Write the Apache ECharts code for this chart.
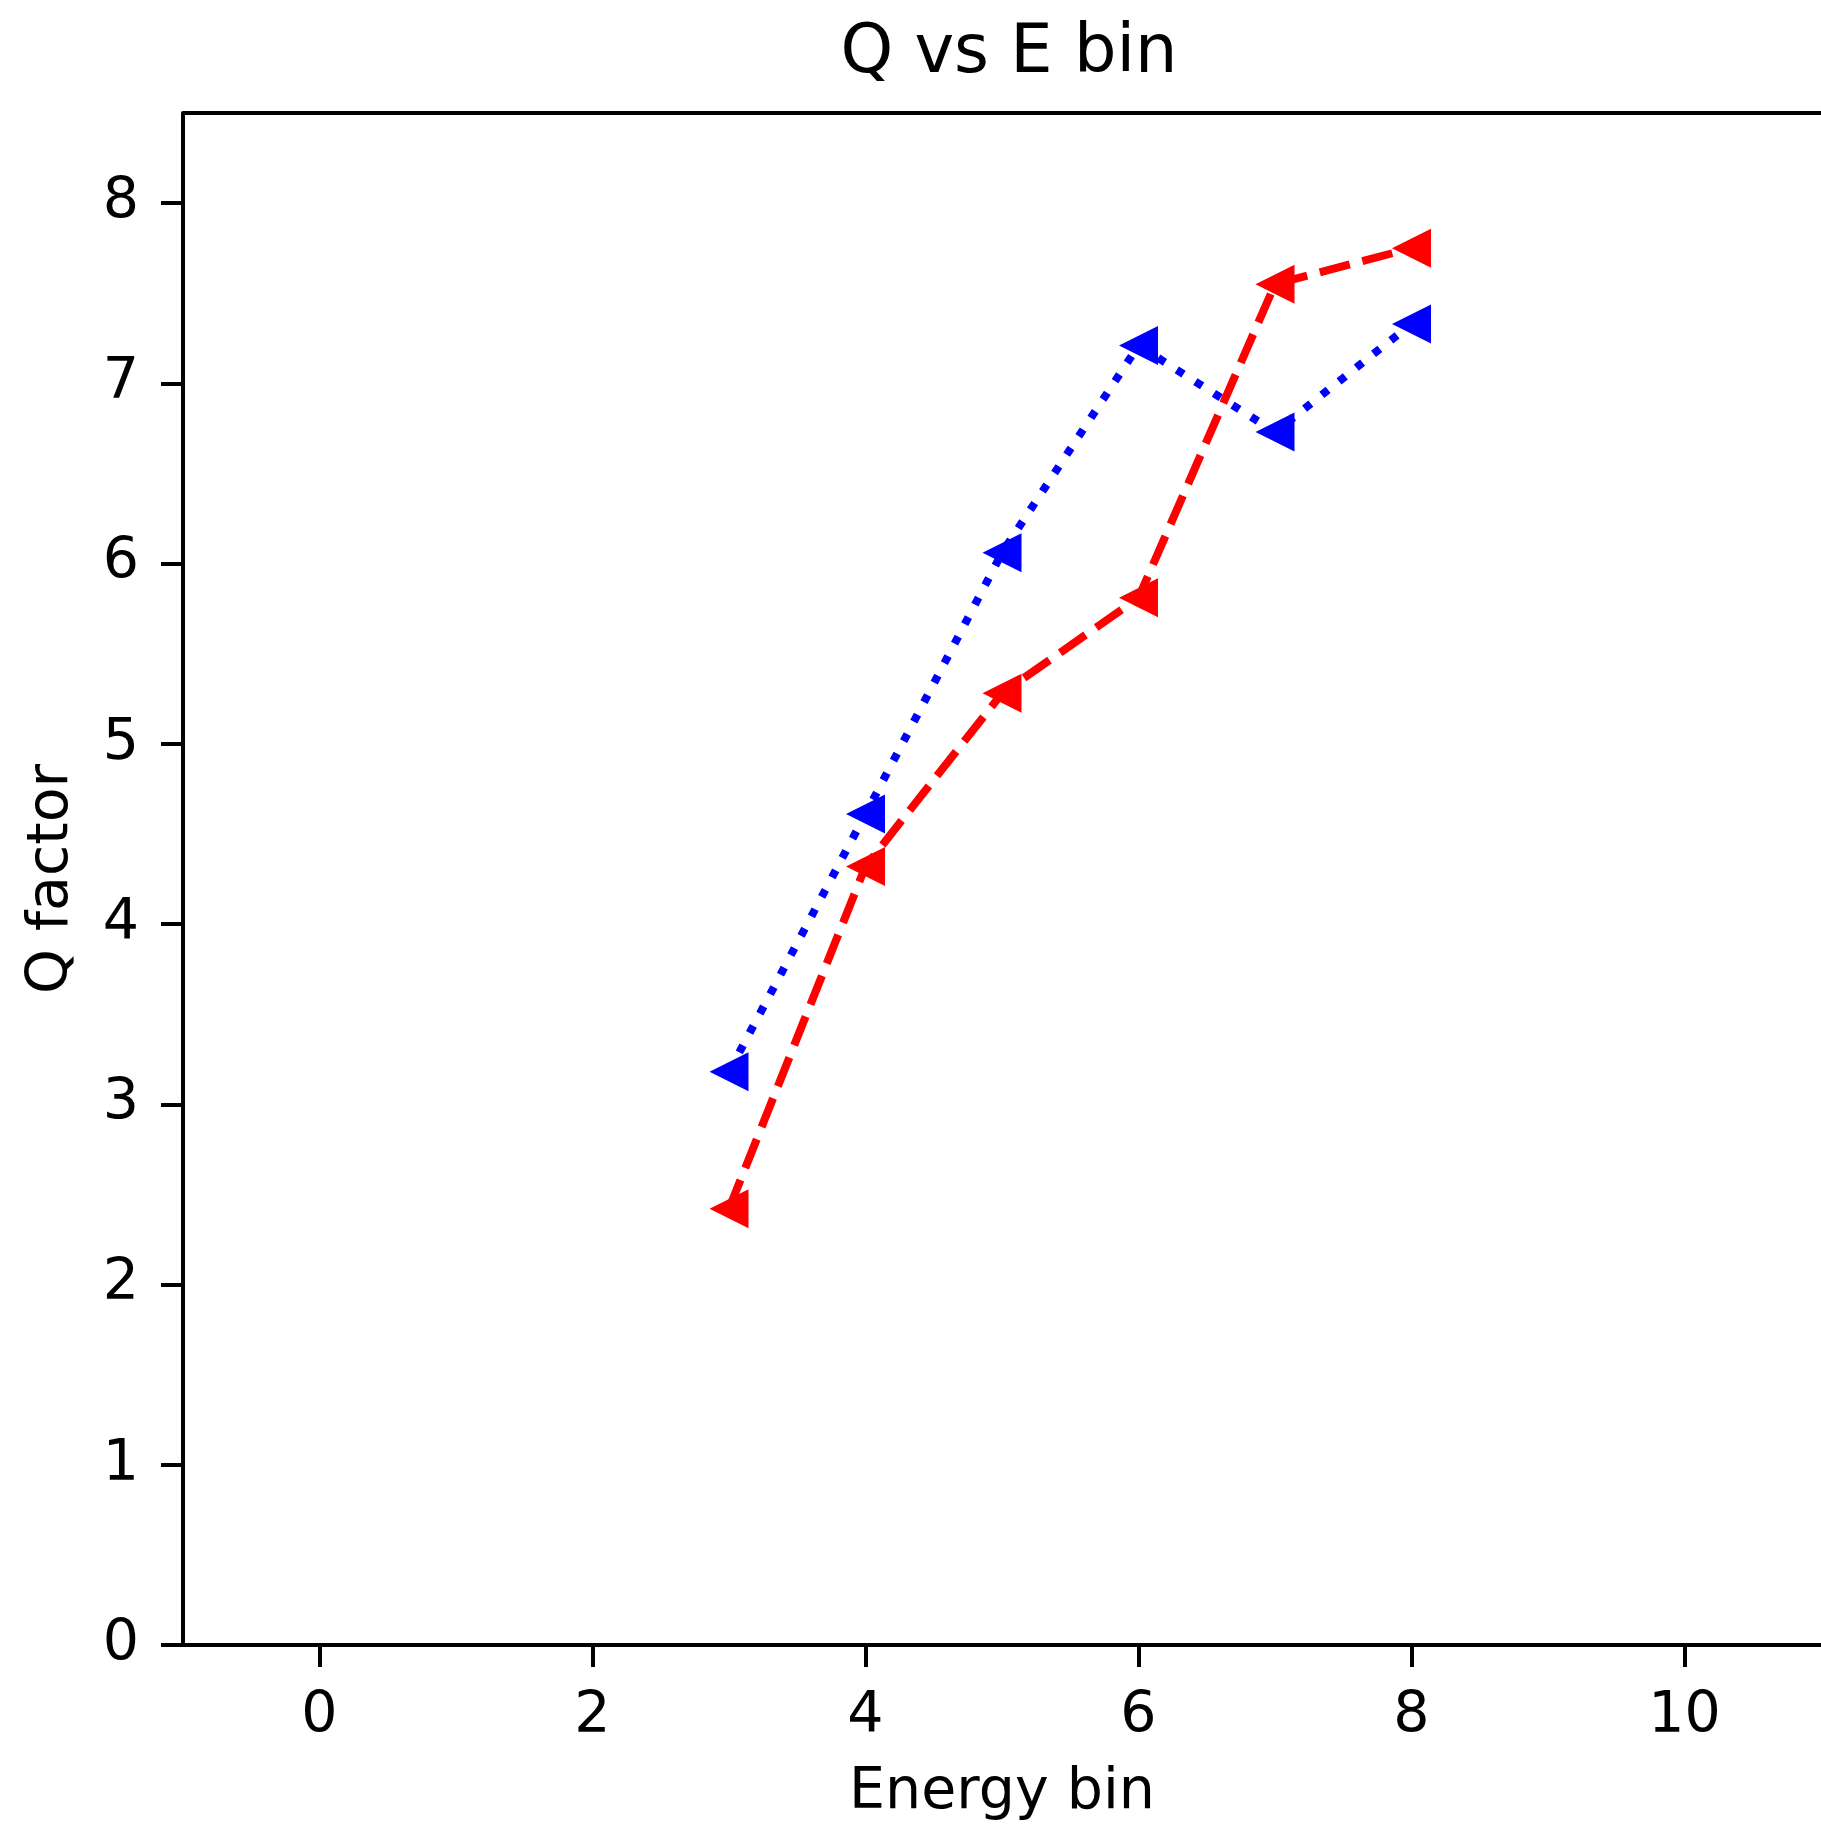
<!DOCTYPE html>
<html>
<head>
<meta charset="utf-8">
<script src="https://cdn.jsdelivr.net/npm/echarts@6/dist/echarts.min.js"></script>
<style>
html,body{margin:0;padding:0;background:#fff;}
#chart{width:1821px;height:1827px;}
</style>
</head>
<body>
<div id="chart"></div>
<script>
// Data
const energyBins = [3, 4, 5, 6, 7, 8];
const qBlue = [3.18, 4.61, 6.06, 7.21, 6.73, 7.33];
const qRed = [2.42, 4.32, 5.28, 5.81, 7.55, 7.75];
const xTickValues = [0, 2, 4, 6, 8, 10];
const yTickValues = [0, 1, 2, 3, 4, 5, 6, 7, 8];

const FONT = 'DejaVu Sans';
const FS = 57;

const chart = echarts.init(document.getElementById('chart'), null, {renderer: 'canvas'});

function pairs(xs, ys) { return xs.map((x, i) => [x, ys[i]]); }

const option = {
  animation: false,
  backgroundColor: '#ffffff',
  title: {
    text: 'Q vs E bin',
    left: 1004,
    top: 16,
    textAlign: 'center',
    textStyle: {fontFamily: FONT, fontSize: 67, fontWeight: 'normal', color: '#000'}
  },
  grid: {left: 183, top: 113, width: 1651, height: 1535, containLabel: false},
  xAxis: {
    type: 'value',
    min: -1,
    max: 11,
    name: 'Energy bin',
    nameLocation: 'middle',
    nameGap: 120,
    nameTextStyle: {fontFamily: FONT, fontSize: FS, color: '#000'},
    axisLine: {show: true, onZero: false, lineStyle: {color: '#000', width: 4}},
    axisTick: {show: true, inside: false, length: 22, lineStyle: {color: '#000', width: 4}, customValues: xTickValues},
    axisLabel: {fontFamily: FONT, fontSize: FS, color: '#000', margin: 44, customValues: xTickValues},
    splitLine: {show: false}
  },
  yAxis: {
    type: 'value',
    min: 0,
    max: 8.5,
    name: 'Q factor',
    nameLocation: 'middle',
    nameGap: 102,
    nameTextStyle: {fontFamily: FONT, fontSize: FS, color: '#000'},
    axisLine: {show: true, onZero: false, lineStyle: {color: '#000', width: 4}},
    axisTick: {show: true, inside: false, length: 22, lineStyle: {color: '#000', width: 4}, customValues: yTickValues},
    axisLabel: {fontFamily: FONT, fontSize: FS, color: '#000', margin: 44, customValues: yTickValues},
    splitLine: {show: false}
  },
  graphic: [{
    type: 'line',
    shape: {x1: 183, y1: 113, x2: 1834, y2: 113},
    style: {stroke: '#000', lineWidth: 4},
    z: 100
  }],
  series: [
    {
      type: 'line',
      data: pairs(energyBins, qBlue),
      symbol: 'triangle',
      symbolRotate: 90,
      symbolSize: 39,
      itemStyle: {color: '#0000ff'},
      lineStyle: {color: '#0000ff', width: 8, type: [8, 14], cap: 'butt'},
      z: 2
    },
    {
      type: 'line',
      data: pairs(energyBins, qRed),
      symbol: 'triangle',
      symbolRotate: 90,
      symbolSize: 39,
      itemStyle: {color: '#ff0000'},
      lineStyle: {color: '#ff0000', width: 8, type: [31, 13], cap: 'butt'},
      z: 3
    }
  ]
};
chart.setOption(option);
</script>
</body>
</html>
